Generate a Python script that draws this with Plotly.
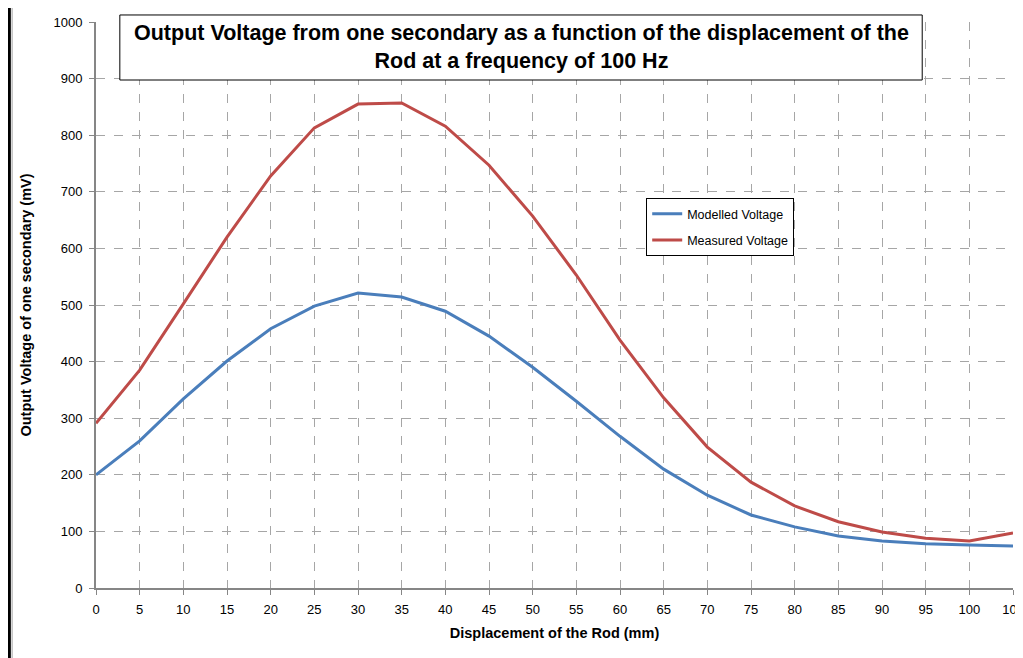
import plotly.graph_objects as go

displacement = list(range(0, 110, 5))
modelled = [200, 260, 334, 401, 458, 498, 521, 514, 489, 445, 390,
            330, 268, 210, 164, 129, 108, 92, 83, 78, 76, 74]
measured = [291, 385, 502, 620, 728, 813, 855, 857, 816, 747, 657,
            553, 438, 336, 249, 187, 145, 117, 99, 88, 83, 97]

font = "Liberation Sans, Arial"

fig = go.Figure()
fig.add_trace(go.Scatter(x=displacement, y=modelled, mode="lines",
                         name="Modelled Voltage", legendgroup="m",
                         line=dict(color="#4a7ebb", width=3)))
fig.add_trace(go.Scatter(x=displacement, y=measured, mode="lines",
                         name="Measured Voltage", legendgroup="r",
                         line=dict(color="#be4b48", width=3)))

axis_common = dict(
    showline=True, linecolor="#868686", linewidth=2,
    showgrid=True, gridcolor="#a6a6a6", griddash="dash", gridwidth=1,
    ticks="outside", tickcolor="#868686", ticklen=5,
    tickfont=dict(family=font, size=13, color="black"),
    ticklabeloverflow="allow", automargin=False,
    zeroline=False,
)

fig.update_xaxes(range=[0, 105], dtick=5, tick0=0,
                 ticklabelstandoff=3,
                 title=dict(text="<b>Displacement of the Rod (mm)</b>",
                            font=dict(family=font, size=14.5, color="black"),
                            standoff=12),
                 **axis_common)
fig.update_yaxes(range=[0, 1000], dtick=100,
                 ticklabelstandoff=4,
                 title=dict(text="<b>Output Voltage of one secondary (mV)</b>",
                            font=dict(family=font, size=14.5, color="black"),
                            standoff=18),
                 **axis_common)

# title box
fig.add_shape(type="rect", xref="paper", yref="paper",
              x0=0.026, x1=0.901, y0=0.8975, y1=1.0124,
              fillcolor="white", line=dict(color="black", width=1), layer="above")
fig.add_annotation(xref="paper", yref="paper", x=0.4635, y=0.955,
                   xanchor="center", yanchor="middle",
                   text="<b>Output Voltage from one secondary as a function of the displacement of the<br>Rod at a frequency of 100 Hz</b>",
                   showarrow=False, font=dict(family=font, size=21.5, color="black"),
                   align="center")

# chart frame
fig.add_shape(type="line", xref="paper", yref="paper",
              x0=-0.0945, x1=1.02, y0=1.029, y1=1.029,
              line=dict(color="black", width=3))
fig.add_shape(type="line", xref="paper", yref="paper",
              x0=-0.0945, x1=-0.0945, y0=1.029, y1=-0.13,
              line=dict(color="black", width=3))
fig.add_shape(type="line", xref="paper", yref="paper",
              x0=-0.0915, x1=-0.0915, y0=1.025, y1=-0.13,
              line=dict(color="#a0a0a0", width=1))

fig.update_layout(
    width=1015, height=650,
    margin=dict(l=88, r=10, t=14, b=70, autoexpand=False),
    plot_bgcolor="white", paper_bgcolor="white",
    legend=dict(x=0.60, y=0.689, xanchor="left", yanchor="top",
                bgcolor="white", bordercolor="black", borderwidth=1,
                tracegroupgap=7,
                font=dict(family=font, size=12.5, color="black")),
)

fig.write_html("out.html")
